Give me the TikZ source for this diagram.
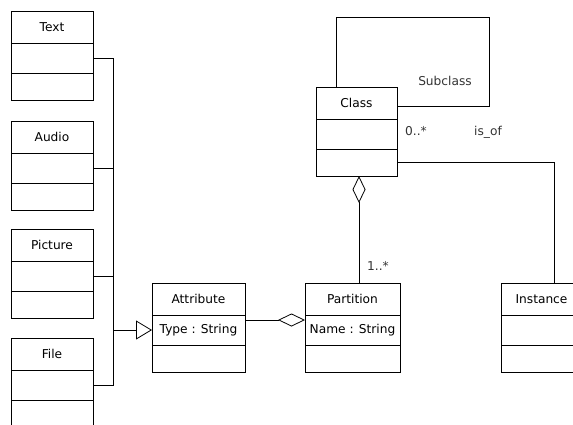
\documentclass[tikz,border=0pt]{standalone}
\usepackage{fontspec}
\setmainfont{DejaVu Sans}
\usetikzlibrary{arrows.meta}
\tikzset{
  box/.style={draw, line width=0.8pt, inner sep=0pt, outer sep=0pt},
  hdr/.style={box, minimum height=32pt, anchor=north west},
  attr/.style={box, minimum height=30pt, anchor=north},
  ops/.style={box, minimum height=27pt, anchor=north},
  conn/.style={line width=0.8pt},
  lbl/.style={text=black!80, inner sep=0pt},
  gen/.style={-{Triangle[open,length=16pt,width=19pt,line width=0.8pt]}},
  agg/.style={{Diamond[open,length=27pt,width=13pt,line width=0.8pt]}-},
}
\newcommand{\umlbox}[5]{%
  \node[hdr, minimum width=#3] (#1) at #2 {#4};
  \node[attr, minimum width=#3] (#1-a) at (#1.south) {#5};
  \node[ops, minimum width=#3] (#1-o) at (#1-a.south) {};
}
\begin{document}
\begin{tikzpicture}[x=1pt,y=-1pt, font=\fontsize{12.2}{14}\selectfont]
\useasboundingbox (0,0) rectangle (573,424);
\begin{scope}
\clip (0,0) rectangle (573,424);
\umlbox{Text}{(11,11)}{82pt}{Text}{}
\umlbox{Audio}{(11,121)}{82pt}{Audio}{}
\umlbox{Picture}{(11,229)}{82pt}{Picture}{}
\umlbox{File}{(11,338)}{82pt}{File}{}
\umlbox{Attribute}{(152,283)}{93pt}{Attribute}{Type : String}
\umlbox{Partition}{(305,283)}{95pt}{Partition}{Name : String}
\umlbox{Class}{(316,87)}{81pt}{Class}{}
\umlbox{Instance}{(501,283)}{81pt}{Instance}{}

% generalization bus
\coordinate (bus) at (113,0);
\draw[conn] (Text-a.east) -| (bus |- Text-a.east) -- (bus |- File-a.east) -- (File-a.east);
\draw[conn] (Audio-a.east) -- (bus |- Audio-a.east);
\draw[conn] (Picture-a.east) -- (bus |- Picture-a.east);
\draw[conn,gen] (bus |- Attribute-a.west) -- (Attribute-a.west);

% aggregation Attribute - Partition
\draw[conn,agg] ([yshift=-5pt]Partition-a.north west) -- ([yshift=-5pt]Attribute-a.north east);

% aggregation Partition - Class
\coordinate (col) at (359,0);
\draw[conn,agg] (col |- Class-o.south) -- (col |- Partition.north);
\node[lbl] (one) at (378,266) {1..*};

% Subclass self-loop
\coordinate (loopTR) at (489,17);
\draw[conn] ([xshift=20pt]Class.north west) |- (loopTR) |- ([yshift=-3pt]Class.east);
\node[lbl] (sub) at (445,81) {Subclass};

% is_of
\draw[conn] (Class-o.east) -| ([xshift=13pt]Instance.north);
\node[lbl, anchor=west] (zero) at (405,131) {0..*};
\node[lbl] (isof) at (488,132) {is\_of};
\end{scope}
\end{tikzpicture}
\end{document}
